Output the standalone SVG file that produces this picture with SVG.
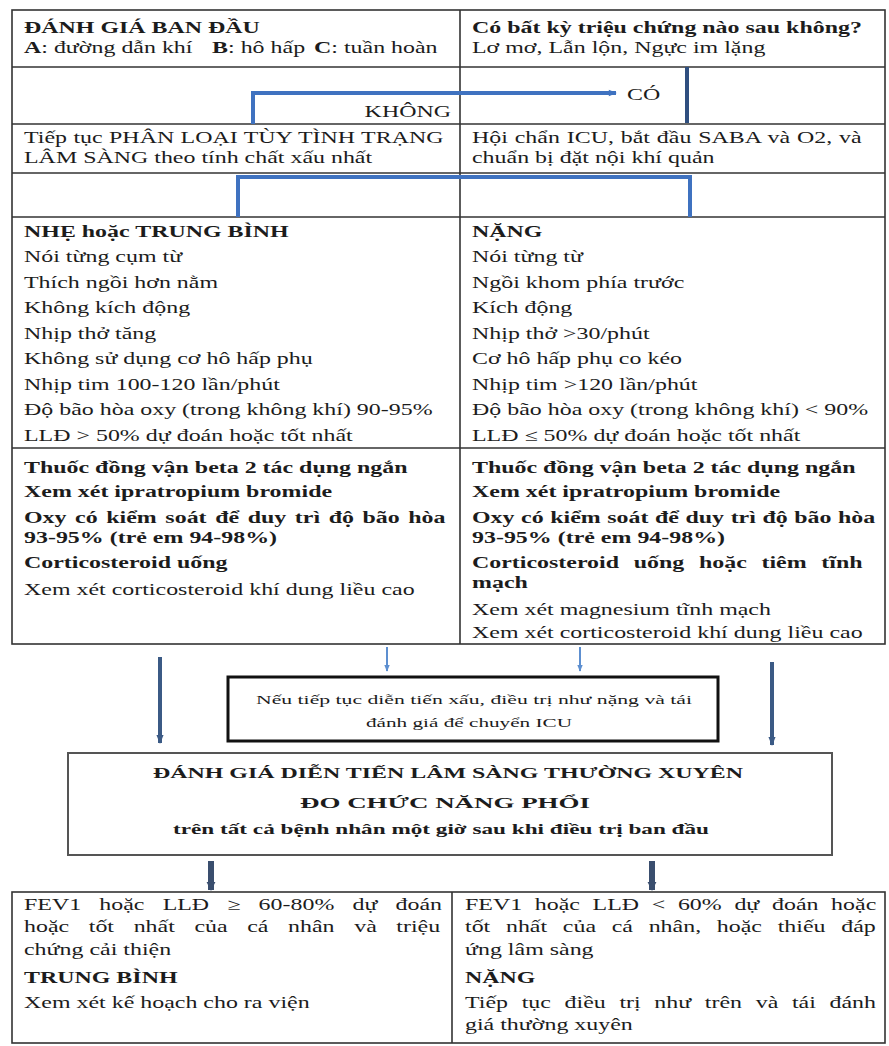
<svg xmlns="http://www.w3.org/2000/svg" width="889" height="1046" viewBox="0 0 889 1046">
  <style>
    text { font-family: "Liberation Serif", "Times New Roman", serif; font-size: 16.5px; fill: #1c1c1c; }
    .b { font-weight: bold; }
    .grid { fill: none; stroke: #333; stroke-width: 1.6; }
    .blue { fill: none; stroke: #3f72c0; stroke-width: 4; }
    .navy { fill: none; stroke: #2f4f7f; stroke-width: 4; }
    .down { fill: none; stroke: #3b5a85; stroke-width: 4; }
    .thin { fill: none; stroke: #5d8fd0; stroke-width: 2; }
    .fat { fill: none; stroke: #3a4e6e; stroke-width: 6; }
    .small { font-size: 12.5px; }
    .mid { font-size: 14px; }
  </style>
  <defs>
    <marker id="tipBlue" markerUnits="userSpaceOnUse" viewBox="0 0 10 10" refX="9" refY="5" markerWidth="9" markerHeight="8" orient="auto">
      <path d="M0,1 L10,5 L0,9 z" fill="#3f72c0"/>
    </marker>
    <marker id="tipNavy" markerUnits="userSpaceOnUse" viewBox="0 0 10 10" refX="9" refY="5" markerWidth="9" markerHeight="9" orient="auto">
      <path d="M0,1 L10,5 L0,9 z" fill="#3b5a85"/>
    </marker>
    <marker id="tipThin" markerUnits="userSpaceOnUse" viewBox="0 0 10 10" refX="9" refY="5" markerWidth="7" markerHeight="7" orient="auto">
      <path d="M0,1 L10,5 L0,9 z" fill="#5d8fd0"/>
    </marker>
    <marker id="tipFat" markerUnits="userSpaceOnUse" viewBox="0 0 10 10" refX="9" refY="5" markerWidth="9" markerHeight="14" orient="auto">
      <path d="M0,0 L10,5 L0,10 z" fill="#3a4e6e"/>
    </marker>
  </defs>

  <rect width="889" height="1046" fill="#ffffff"/>

  <!-- upper assessment table -->
  <g id="table-grid">
    <rect class="grid" x="12" y="10" width="873" height="634"/>
    <line class="grid" x1="460" y1="10" x2="460" y2="644"/>
    <line class="grid" x1="12" y1="67" x2="885" y2="67"/>
    <line class="grid" x1="12" y1="124" x2="885" y2="124"/>
    <line class="grid" x1="12" y1="173" x2="885" y2="173"/>
    <line class="grid" x1="12" y1="217" x2="885" y2="217"/>
    <line class="grid" x1="12" y1="448" x2="885" y2="448"/>
  </g>

  <g id="initial-assessment" transform="translate(24 0) scale(1.45 1)">
    <text class="b" y="33">ĐÁNH GIÁ BAN ĐẦU</text>
    <text y="53"><tspan class="b">A</tspan>: đường dẫn khí</text>
    <text x="129.7" y="53"><tspan class="b">B</tspan>: hô hấp</text>
    <text x="200" y="53"><tspan class="b">C</tspan>: tuần hoàn</text>
  </g>

  <g id="danger-signs" transform="translate(472 0) scale(1.45 1)">
    <text class="b" y="33">Có bất kỳ triệu chứng nào sau không?</text>
    <text y="53">Lơ mơ, Lẫn lộn, Ngực im lặng</text>
  </g>

  <g id="label-khong" transform="translate(451 117) scale(1.45 1)">
    <text text-anchor="end">KHÔNG</text>
  </g>
  <g id="label-co" transform="translate(627 100) scale(1.45 1)">
    <text>CÓ</text>
  </g>

  <g id="classify" transform="translate(24 0) scale(1.45 1)">
    <text y="143" word-spacing="0.3">Tiếp tục PHÂN LOẠI TÙY TÌNH TRẠNG</text>
    <text y="163">LÂM SÀNG theo tính chất xấu nhất</text>
  </g>

  <g id="icu-consult" transform="translate(472 0) scale(1.45 1)">
    <text y="143" word-spacing="0.6">Hội chẩn ICU, bắt đầu SABA và O2, và</text>
    <text y="163">chuẩn bị đặt nội khí quản</text>
  </g>

  <g id="mild-moderate" transform="translate(24 0) scale(1.45 1)">
    <text class="b" y="237">NHẸ hoặc TRUNG BÌNH</text>
    <text y="262.5">Nói từng cụm từ</text>
    <text y="288">Thích ngồi hơn nằm</text>
    <text y="313.5">Không kích động</text>
    <text y="339">Nhịp thở tăng</text>
    <text y="364.5">Không sử dụng cơ hô hấp phụ</text>
    <text y="390">Nhịp tim 100-120 lần/phút</text>
    <text y="415.5">Độ bão hòa oxy (trong không khí) 90-95%</text>
    <text y="441">LLĐ &gt; 50% dự đoán hoặc tốt nhất</text>
  </g>

  <g id="severe" transform="translate(472 0) scale(1.45 1)">
    <text class="b" y="237">NẶNG</text>
    <text y="262.5">Nói từng từ</text>
    <text y="288">Ngồi khom phía trước</text>
    <text y="313.5">Kích động</text>
    <text y="339">Nhịp thở &gt;30/phút</text>
    <text y="364.5">Cơ hô hấp phụ co kéo</text>
    <text y="390">Nhịp tim &gt;120 lần/phút</text>
    <text y="415.5">Độ bão hòa oxy (trong không khí) &lt; 90%</text>
    <text y="441">LLĐ ≤ 50% dự đoán hoặc tốt nhất</text>
  </g>

  <g id="treat-mild" transform="translate(24 0) scale(1.45 1)">
    <text class="b" y="473">Thuốc đồng vận beta 2 tác dụng ngắn</text>
    <text class="b" y="497">Xem xét ipratropium bromide</text>
    <text class="b" y="523" word-spacing="1.8">Oxy có kiểm soát để duy trì độ bão hòa</text>
    <text class="b" y="543">93-95% (trẻ em 94-98%)</text>
    <text class="b" y="568">Corticosteroid uống</text>
    <text y="595">Xem xét corticosteroid khí dung liều cao</text>
  </g>

  <g id="treat-severe" transform="translate(472 0) scale(1.45 1)">
    <text class="b" y="473">Thuốc đồng vận beta 2 tác dụng ngắn</text>
    <text class="b" y="497">Xem xét ipratropium bromide</text>
    <text class="b" y="523" word-spacing="0.4">Oxy có kiểm soát để duy trì độ bão hòa</text>
    <text class="b" y="543">93-95% (trẻ em 94-98%)</text>
    <text class="b" y="568" word-spacing="6">Corticosteroid uống hoặc tiêm tĩnh</text>
    <text class="b" y="588">mạch</text>
    <text y="615">Xem xét magnesium tĩnh mạch</text>
    <text y="638">Xem xét corticosteroid khí dung liều cao</text>
  </g>

  <!-- escalation note -->
  <g id="escalate">
    <rect x="228" y="677" width="490" height="64" fill="#fff" stroke="#111" stroke-width="3"/>
    <text class="small" x="474" y="704" text-anchor="middle" textLength="436" lengthAdjust="spacingAndGlyphs">Nếu tiếp tục diễn tiến xấu, điều trị như nặng và tái</text>
    <text class="small" x="469" y="727" text-anchor="middle" textLength="206" lengthAdjust="spacingAndGlyphs">đánh giá để chuyển ICU</text>
  </g>

  <!-- reassessment -->
  <g id="reassess">
    <rect x="68" y="753" width="764" height="102" fill="#fff" stroke="#555" stroke-width="2"/>
    <text class="b mid" x="448" y="778" text-anchor="middle" textLength="590" lengthAdjust="spacingAndGlyphs">ĐÁNH GIÁ DIỄN TIẾN LÂM SÀNG THƯỜNG XUYÊN</text>
    <text class="b mid" x="445" y="808" text-anchor="middle" textLength="290" lengthAdjust="spacingAndGlyphs">ĐO CHỨC NĂNG PHỔI</text>
    <text class="b mid" x="441" y="834" text-anchor="middle" textLength="536" lengthAdjust="spacingAndGlyphs">trên tất cả bệnh nhân một giờ sau khi điều trị ban đầu</text>
  </g>

  <!-- outcome boxes -->
  <g id="outcome-grid">
    <rect class="grid" x="12" y="892" width="873" height="151"/>
    <line class="grid" x1="452" y1="892" x2="452" y2="1043"/>
  </g>

  <g id="outcome-good" transform="translate(24 0) scale(1.45 1)">
    <text y="910" word-spacing="8.4">FEV1 hoặc LLĐ ≥ 60-80% dự đoán</text>
    <text y="932" word-spacing="9.4">hoặc tốt nhất của cá nhân và triệu</text>
    <text y="955">chứng cải thiện</text>
    <text class="b" y="983">TRUNG BÌNH</text>
    <text y="1008">Xem xét kế hoạch cho ra viện</text>
  </g>

  <g id="outcome-poor" transform="translate(465 0) scale(1.45 1)">
    <text y="910" word-spacing="4.6">FEV1 hoặc LLĐ &lt; 60% dự đoán hoặc</text>
    <text y="932" word-spacing="6.7">tốt nhất của cá nhân, hoặc thiếu đáp</text>
    <text y="955">ứng lâm sàng</text>
    <text class="b" y="983">NẶNG</text>
    <text y="1008" word-spacing="5.3">Tiếp tục điều trị như trên và tái đánh</text>
    <text y="1030">giá thường xuyên</text>
  </g>

  <!-- connectors -->
  <g id="connectors">
    <polyline class="blue" points="253,124 253,93 616,93" marker-end="url(#tipBlue)"/>
    <line class="navy" x1="687" y1="67" x2="687" y2="123"/>
    <polyline class="blue" points="238,217 238,177 690,177 690,217"/>
    <line class="down" x1="160" y1="657" x2="160" y2="743" marker-end="url(#tipNavy)"/>
    <line class="down" x1="772" y1="662" x2="772" y2="745" marker-end="url(#tipNavy)"/>
    <line class="thin" x1="387" y1="647" x2="387" y2="671" marker-end="url(#tipThin)"/>
    <line class="thin" x1="580" y1="647" x2="580" y2="671" marker-end="url(#tipThin)"/>
    <line class="fat" x1="211" y1="861" x2="211" y2="890" marker-end="url(#tipFat)"/>
    <line class="fat" x1="652" y1="861" x2="652" y2="890" marker-end="url(#tipFat)"/>
  </g>
</svg>
